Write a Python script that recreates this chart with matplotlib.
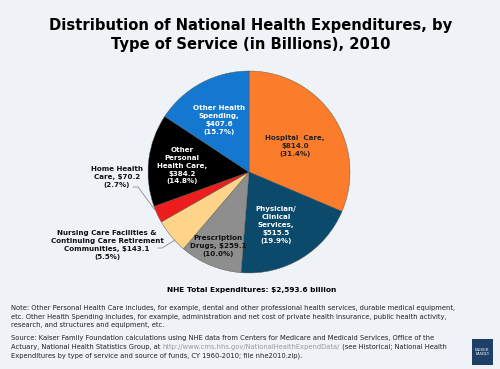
import matplotlib.pyplot as plt
from matplotlib.patches import Rectangle

# Ausgaben nach Leistungsart (Mrd. $), im Uhrzeigersinn ab 12 Uhr
categories = ['Hospital Care', 'Physician/Clinical Services', 'Prescription Drugs',
              'Nursing Care Facilities & Continuing Care Retirement Communities',
              'Home Health Care', 'Other Personal Health Care', 'Other Health Spending']
values = [814.0, 515.5, 259.1, 143.1, 70.2, 384.2, 407.6]
shares = [31.4, 19.9, 10.0, 5.5, 2.7, 14.8, 15.7]
colors = ['#fb7d2b', '#0b4a6a', '#8e8e8e', '#fdd48a', '#ee1d1d', '#000000', '#1478d0']

bg = '#eff2f7'
fig = plt.figure(figsize=(5, 3.69), dpi=100, facecolor=bg)

# Torte: Mittelpunkt ca. (249, 172) px, Radius ca. 101 px
ax = fig.add_axes([148 / 500, 1 - 273 / 369, 202 / 500, 202 / 369])
ax.pie(values, colors=colors, startangle=90, counterclock=False,
       wedgeprops=dict(linewidth=0.3, edgecolor='#555555'))
ax.set_aspect('equal')
ax.set_xlim(-1, 1)
ax.set_ylim(-1, 1)
ax.axis('off')


def px(x, y):
    return x / 500, 1 - y / 369


fig.text(*px(251, 35), 'Distribution of National Health Expenditures, by\nType of Service (in Billions), 2010',
         ha='center', va='center', fontsize=10.6, fontweight='bold', linespacing=1.3)

lab_kw = dict(ha='center', va='center', fontsize=5.1, fontweight='bold', linespacing=1.35)
fig.text(*px(295, 146), f'Hospital  Care,\n${values[0]:.1f}\n({shares[0]}%)', color='#222222', **lab_kw)
fig.text(*px(276, 225), f'Physician/\nClinical\nServices,\n${values[1]:.1f}\n({shares[1]}%)', color='white', **lab_kw)
fig.text(*px(218, 246), f'Prescription\nDrugs, ${values[2]:.1f}\n({shares[2]}%)', color='#111111', **lab_kw)
fig.text(*px(107, 245), f'Nursing Care Facilities &\nContinuing Care Retirement\nCommunities, ${values[3]:.1f}\n({shares[3]}%)',
         color='#111111', **lab_kw)
fig.text(*px(117, 177), f'Home Health\nCare, ${values[4]:.1f}\n({shares[4]}%)', color='#111111', **lab_kw)
fig.text(*px(182, 166), f'Other\nPersonal\nHealth Care,\n${values[5]:.1f}\n({shares[5]}%)', color='white', **lab_kw)
fig.text(*px(219, 120), f'Other Health\nSpending,\n${values[6]:.1f}\n({shares[6]}%)', color='white', **lab_kw)

# Hinweislinien
fig.add_artist(plt.Line2D([133 / 500, 138 / 500, 155 / 500], [1 - 187 / 369, 1 - 187 / 369, 1 - 210 / 369],
                          color='#777777', lw=0.5))
fig.add_artist(plt.Line2D([158 / 500, 162 / 500, 175 / 500], [1 - 248 / 369, 1 - 248 / 369, 1 - 240 / 369],
                          color='#777777', lw=0.5))

fig.text(*px(252, 290), 'NHE Total Expenditures: $2,593.6 billion', ha='center', va='center',
         fontsize=5.35, fontweight='bold')

small = dict(ha='left', va='top', fontsize=4.85, color='#222222')
note = ['Note: Other Personal Health Care includes, for example, dental and other professional health services, durable medical equipment,',
        'etc. Other Health Spending includes, for example, administration and net cost of private health insurance, public health activity,',
        'research, and structures and equipment, etc.']
pitch = 8.7
for i, line in enumerate(note):
    fig.text(*px(11, 305 + i * pitch), line, **small)

src1 = 'Source: Kaiser Family Foundation calculations using NHE data from Centers for Medicare and Medicaid Services, Office of the'
src2a = 'Actuary, National Health Statistics Group, at '
src2b = 'http://www.cms.hhs.gov/NationalHealthExpendData/'
src2c = ' (see Historical; National Health'
src3 = 'Expenditures by type of service and source of funds, CY 1960-2010; file nhe2010.zip).'
fig.text(*px(11, 335), src1, **small)
fig.text(*px(11, 335 + 2 * pitch), src3, **small)
x = 11 / 500
for piece, col in [(src2a, '#222222'), (src2b, '#999999'), (src2c, '#222222')]:
    t = fig.text(x, 1 - (335 + pitch) / 369, piece, **{**small, 'color': col})
    fig.canvas.draw()
    x = t.get_window_extent().x1 / fig.bbox.width

# Logo
fig.add_artist(Rectangle(px(472, 365), 21 / 500, 26 / 369, facecolor='#1e3f66', edgecolor='none'))
fig.text(*px(482.5, 352), 'KAISER\nFAMILY', ha='center', va='center', fontsize=2.6, color='white',
         family='DejaVu Serif', linespacing=1.0)

fig.savefig('out.png', dpi=100, facecolor=bg)
